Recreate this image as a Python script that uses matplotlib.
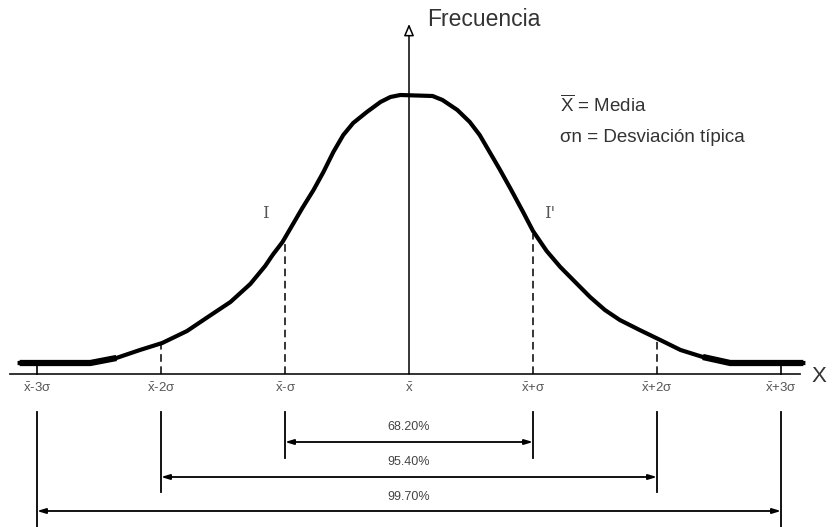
import matplotlib.pyplot as plt

# curve: x in sigma units, y = frequency height
curve_x = [-3.14, -2.57, -2.36, -2.17, -1.99, -1.79, -1.61, -1.44, -1.28, -1.16,
           -1.10, -1.02, -0.94, -0.86, -0.77, -0.69, -0.61, -0.53, -0.45, -0.34,
           -0.23, -0.15, -0.07, 0.19, 0.27, 0.39, 0.49, 0.57, 0.65, 0.73,
           0.82, 0.92, 1.00, 1.11, 1.22, 1.34, 1.46, 1.58, 1.70, 1.86,
           2.01, 2.19, 2.37, 2.59, 3.18]
curve_y = [11, 11, 16, 24, 31, 43, 58, 72, 90, 108,
           119, 132, 149, 166, 184, 202, 222, 239, 251, 262,
           272, 277, 279, 278, 274, 264, 252, 239, 222, 205,
           185, 162, 143, 123, 107, 92, 77, 64, 54, 44,
           35, 24, 17, 11, 11]

tick_pos = [-3, -2, -1, 0, 1, 2, 3]
tick_labels = [r'$\bar{x}$-3σ', r'$\bar{x}$-2σ', r'$\bar{x}$-σ', r'$\bar{x}$',
               r'$\bar{x}$+σ', r'$\bar{x}$+2σ', r'$\bar{x}$+3σ']
guide_pos = [-2, -1, 1, 2]
guide_top = [31, 135, 140, 35]
tail_pos = [-3, 3]
tail_top = [11, 11]

pct_labels = ['68.20%', '95.40%', '99.70%']
pct_half = [1, 2, 3]
pct_arrow_y = [-68, -103, -137]
pct_text_y = [-53, -88, -123]
pct_bar_bottom = [-84, -118, -160]

plt.rcParams['font.family'] = ['Liberation Sans', 'DejaVu Sans']
plt.rcParams['mathtext.fontset'] = 'custom'
plt.rcParams['mathtext.rm'] = 'Liberation Sans'
plt.rcParams['mathtext.it'] = 'Liberation Sans'

fig = plt.figure(figsize=(8.36, 5.27), dpi=100)
ax = fig.add_axes([0, 0, 1, 1])
ax.set_xlim(-409 / 124, 427 / 124)
ax.set_ylim(-153, 374)
ax.axis('off')

# bell curve (tails drawn a bit heavier, as in the original)
ax.plot(curve_x, curve_y, color='black', lw=3.0, solid_joinstyle='round', zorder=3)
ax.plot(curve_x[:3], curve_y[:3], color='black', lw=4.5, solid_capstyle='butt', zorder=3)
ax.plot(curve_x[-3:], curve_y[-3:], color='black', lw=4.5, solid_capstyle='butt', zorder=3)

# horizontal axis
ax.plot([-3.22, 3.15], [0, 0], color='#222222', lw=1.3)
ax.text(3.25, -3, 'X', fontsize=16, color='#333333', va='center', ha='left')

# vertical axis with hollow arrow
ax.annotate('', xy=(0, 350), xytext=(0, 0),
            arrowprops=dict(arrowstyle='-|>,head_length=0.7,head_width=0.3',
                            fc='white', ec='black', lw=1.1, shrinkA=0, shrinkB=0))
ax.text(0.15, 354, 'Frecuencia', fontsize=16.5, color='#333333', va='center', ha='left')

# dashed guides and tail ticks
for p, t in zip(guide_pos, guide_top):
    ax.plot([p, p], [0, t], color='black', lw=1.1, linestyle=(0, (5, 3)))
for p, t in zip(tail_pos, tail_top):
    ax.plot([p, p], [0, t], color='black', lw=1.2)

for p, lab in zip(tick_pos, tick_labels):
    ax.text(p, -14, lab, fontsize=9.5, color='#555555', ha='center', va='center')

# inflection point labels
ax.text(-1.16, 160, 'I', fontsize=12, color='#555555', ha='center', va='center', family='DejaVu Serif')
ax.text(1.13, 160, "I'", fontsize=12, color='#555555', ha='center', va='center', family='DejaVu Serif')

# legend text
ax.text(1.22, 269, r'$\overline{\mathrm{X}}$ = Media', fontsize=13.5, color='#333333', va='center', ha='left')
ax.text(1.22, 236, 'σn = Desviación típica', fontsize=13.5, color='#333333', va='center', ha='left')

# percentage brackets
for lab, h, ay, ty, bb in zip(pct_labels, pct_half, pct_arrow_y, pct_text_y, pct_bar_bottom):
    for s in (-h, h):
        ax.plot([s, s], [-38, bb], color='black', lw=1.3)
    ax.annotate('', xy=(h, ay), xytext=(-h, ay),
                arrowprops=dict(arrowstyle='<|-|>,head_length=0.5,head_width=0.15',
                                fc='black', ec='black', lw=1.3, shrinkA=0, shrinkB=0))
    ax.text(0, ty, lab, fontsize=9, color='#444444', ha='center', va='center')

fig.savefig('out.png', dpi=100)
